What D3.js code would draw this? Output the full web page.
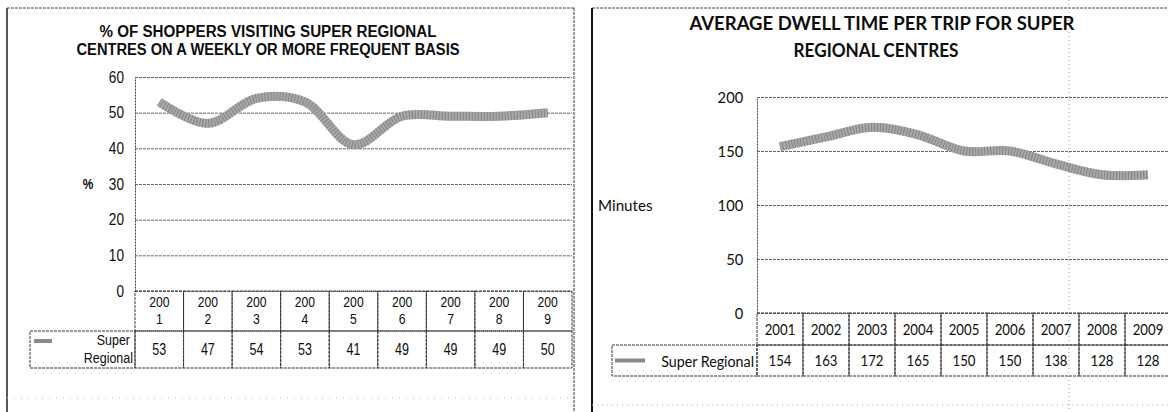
<!DOCTYPE html>
<html><head><meta charset="utf-8">
<script src="https://cdn.jsdelivr.net/npm/d3@7"></script>
<style>html,body{margin:0;padding:0;background:#fff;} svg{display:block}</style>
</head><body>
<svg id="c" width="1168" height="412"></svg>
<script>
const years = ["2001","2002","2003","2004","2005","2006","2007","2008","2009"];
const visitShare = [53,47,54,53,41,49,49,49,50];
const dwellMinutes = [154,163,172,165,150,150,138,128,128];
const visitTicks = [0,10,20,30,40,50,60];
const dwellTicks = [0,50,100,150,200];
const seriesName = "Super Regional";
const visitTitle = ["% OF SHOPPERS VISITING  SUPER REGIONAL","CENTRES ON A WEEKLY  OR MORE FREQUENT BASIS"];
const dwellTitle = ["AVERAGE DWELL TIME  PER TRIP FOR SUPER","REGIONAL CENTRES"];
const visitAxisTitle = "%";
const dwellAxisTitle = "Minutes";

const svg = d3.select("#c");
const INK = "#0d0d0d";
const GRID = "#666";

function label(g, x, y, s, o = {}) {
  const t = g.append("text")
    .attr("transform", `translate(${x},${y}) scale(${o.sx || 1},1)`)
    .attr("text-anchor", o.anchor || "middle")
    .attr("dominant-baseline", "central")
    .attr("font-family", o.family || "Liberation Sans")
    .attr("font-size", o.size || 12)
    .attr("font-weight", o.weight || "normal")
    .attr("fill", o.fill || INK)
    .text(s);
  if (o.len) t.attr("textLength", o.len).attr("lengthAdjust", "spacingAndGlyphs");
  return t;
}
function seg(g, x1, y1, x2, y2, o = {}) {
  g.append("line").attr("x1", x1).attr("y1", y1).attr("x2", x2).attr("y2", y2)
    .attr("stroke", o.stroke || "#333").attr("stroke-width", o.w || 1)
    .attr("stroke-dasharray", o.dash || null);
}
function thickLine(g, data, line) {
  g.append("path").datum(data).attr("d", line).attr("fill", "none")
    .attr("stroke", "#a8a8a8").attr("stroke-width", 9);
  g.append("path").datum(data).attr("d", line).attr("fill", "none")
    .attr("stroke", "#6a6a6a").attr("stroke-width", 9).attr("stroke-dasharray", "1,2").attr("opacity", 0.55);
}

/* ---------------- LEFT CHART ---------------- */
const L = { frameL: 7, frameT: 8, frameR: 574, left: 135, right: 572, top: 77, zero: 291, head: 331, bottom: 368, legL: 30 };
const gL = svg.append("g");
seg(gL, L.frameL, L.frameT, L.frameR, L.frameT, { stroke: "#444", dash: "3,1" });
seg(gL, L.frameL, L.frameT, L.frameL, 412, { stroke: "#222", w: 1.5 });
seg(gL, L.frameR, L.frameT, L.frameR, 412, { stroke: "#333", dash: "3,1" });
seg(gL, L.frameL, 398, L.frameR, 398, { stroke: "#bbb", dash: "1,6" });

label(gL, 268, 31, visitTitle[0], { weight: "bold", size: 16, len: 337 });
label(gL, 268, 49, visitTitle[1], { weight: "bold", size: 16, len: 383 });

const xL = d3.scaleBand().domain(years).range([L.left, L.right]);
const yL = d3.scaleLinear().domain([0, 60]).range([L.zero, L.top]);

gL.append("g").attr("transform", `translate(${L.left},0)`)
  .call(d3.axisLeft(yL).tickValues(visitTicks).tickSize(-(L.right - L.left)).tickFormat(""))
  .call(g => g.select(".domain").remove())
  .call(g => g.selectAll("line").attr("stroke", GRID).attr("stroke-dasharray", "3,1"));
gL.append("g").attr("transform", `translate(${L.left},0)`)
  .call(d3.axisLeft(yL).tickValues(visitTicks).tickSize(0).tickPadding(13))
  .call(g => g.select(".domain").attr("stroke", "#444").attr("stroke-dasharray", "2,1"))
  .call(g => g.selectAll("text").attr("font-family", "Liberation Sans").attr("font-size", 16)
    .attr("fill", INK).attr("transform", "scale(0.85,1)"));
label(gL, 88, yL(30), visitAxisTitle, { size: 14, sx: 0.85, weight: "bold" });

const tL = gL.append("g");
years.forEach((yr, i) => {
  const x0 = xL(yr), bw = xL.bandwidth();
  tL.append("rect").attr("x", x0).attr("y", L.zero).attr("width", bw).attr("height", L.head - L.zero)
    .attr("fill", "none").attr("stroke", "#333").attr("stroke-dasharray", "3,1");
  tL.append("rect").attr("x", x0).attr("y", L.head).attr("width", bw).attr("height", L.bottom - L.head)
    .attr("fill", "none").attr("stroke", "#333").attr("stroke-dasharray", "3,1");
  label(tL, x0 + bw / 2, L.zero + 11, yr.slice(0, 3), { size: 14.5, sx: 0.84 });
  label(tL, x0 + bw / 2, L.zero + 28, yr.slice(3), { size: 14.5, sx: 0.84 });
  label(tL, x0 + bw / 2, (L.head + L.bottom) / 2, String(visitShare[i]), { size: 16, sx: 0.78 });
});
tL.append("rect").attr("x", L.legL).attr("y", L.head).attr("width", L.left - L.legL).attr("height", L.bottom - L.head)
  .attr("fill", "none").attr("stroke", "#333").attr("stroke-dasharray", "3,1");
const lgL = d3.line().x(d => d[0]).y(d => d[1]);
gL.append("path").datum([[L.legL + 4, L.head + 10], [L.legL + 22, L.head + 10]]).attr("d", lgL)
  .attr("stroke", "#8a8a8a").attr("stroke-width", 4).attr("fill", "none");
const nameParts = seriesName.split(" ");
label(tL, L.left - 5, L.head + 9.5, nameParts[0], { size: 14.5, sx: 0.86, anchor: "end" });
label(tL, L.left - 2, L.head + 27, nameParts[1], { size: 14.5, sx: 0.86, anchor: "end" });

const lineL = d3.line().x((d, i) => xL(years[i]) + xL.bandwidth() / 2).y(d => yL(d)).curve(d3.curveCatmullRom.alpha(0.5));
thickLine(gL, visitShare, lineL);

/* ---------------- RIGHT CHART ---------------- */
const R = { frameL: 592, frameT: 8, left: 757, right: 1171, top: 97, zero: 313, head: 345, bottom: 376, legL: 612 };
const gR = svg.append("g");
seg(gR, R.frameL, R.frameT, 1168, R.frameT, { stroke: "#444", dash: "3,1" });
seg(gR, R.frameL, R.frameT, R.frameL, 412, { stroke: "#111", w: 2 });
seg(gR, 1069, 0, 1069, 412, { stroke: "#999", dash: "1,3" });
seg(gR, R.frameL, 405, 1168, 405, { stroke: "#aaa", dash: "1,4" });

label(gR, 882, 23, dwellTitle[0], { weight: "bold", size: 18, len: 385, family: "Lato" });
label(gR, 876, 50, dwellTitle[1], { weight: "bold", size: 18, len: 165, family: "Lato" });

const xR = d3.scaleBand().domain(years).range([R.left, R.right]);
const yR = d3.scaleLinear().domain([0, 200]).range([R.zero, R.top]);

gR.append("g").attr("transform", `translate(${R.left},0)`)
  .call(d3.axisLeft(yR).tickValues(dwellTicks).tickSize(-(R.right - R.left)).tickFormat(""))
  .call(g => g.select(".domain").remove())
  .call(g => g.selectAll("line").attr("stroke", GRID).attr("stroke-dasharray", "3,1"));
gR.append("g").attr("transform", `translate(${R.left},0)`)
  .call(d3.axisLeft(yR).tickValues(dwellTicks).tickSize(0).tickPadding(15))
  .call(g => g.select(".domain").attr("stroke", "#444").attr("stroke-dasharray", "2,1"))
  .call(g => g.selectAll("text").attr("font-family", "Lato").attr("font-size", 16)
    .attr("fill", INK).attr("transform", "scale(0.92,1)"));
label(gR, 598, yR(100), dwellAxisTitle, { size: 16, anchor: "start", family: "Lato", sx: 0.95 });

const tR = gR.append("g");
years.forEach((yr, i) => {
  const x0 = xR(yr), bw = xR.bandwidth();
  tR.append("rect").attr("x", x0).attr("y", R.zero).attr("width", bw).attr("height", R.head - R.zero)
    .attr("fill", "none").attr("stroke", "#333").attr("stroke-dasharray", "3,1");
  tR.append("rect").attr("x", x0).attr("y", R.head).attr("width", bw).attr("height", R.bottom - R.head)
    .attr("fill", "none").attr("stroke", "#333").attr("stroke-dasharray", "3,1");
  label(tR, x0 + bw / 2, (R.zero + R.head) / 2, yr, { size: 15.5, sx: 0.85, family: "Lato" });
  label(tR, x0 + bw / 2, (R.head + R.bottom) / 2, String(dwellMinutes[i]), { size: 15.5, sx: 0.85, family: "Lato" });
});
tR.append("rect").attr("x", R.legL).attr("y", R.head).attr("width", R.left - R.legL).attr("height", R.bottom - R.head)
  .attr("fill", "none").attr("stroke", "#333").attr("stroke-dasharray", "3,1");
gR.append("path").datum([[R.legL + 3, (R.head + R.bottom) / 2], [R.legL + 33, (R.head + R.bottom) / 2]]).attr("d", lgL)
  .attr("stroke", "#8a8a8a").attr("stroke-width", 4).attr("fill", "none");
label(tR, R.left - 3, (R.head + R.bottom) / 2, seriesName, { size: 15.5, sx: 0.92, anchor: "end", family: "Lato" });

const lineR = d3.line().x((d, i) => xR(years[i]) + xR.bandwidth() / 2).y(d => yR(d)).curve(d3.curveCatmullRom.alpha(0.5));
thickLine(gR, dwellMinutes, lineR);
</script>
</body></html>
